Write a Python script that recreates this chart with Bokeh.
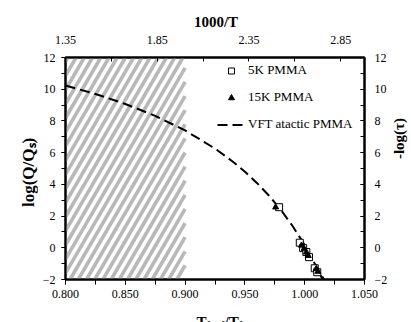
from math import pi, atan, sin
from bokeh.plotting import figure
from bokeh.layouts import column, row
from bokeh.models import (Range1d, LinearAxis, SingleIntervalTicker, FixedTicker,
                          NumeralTickFormatter, Label, Legend, LegendItem)
from bokeh.embed import file_html
from bokeh.resources import INLINE

# ---- data ----
shaded_region = [0.80, 0.90]
vft_x = [0.800, 0.825, 0.850, 0.875, 0.900, 0.925, 0.940, 0.950, 0.960, 0.970,
         0.980, 0.990, 1.000, 1.010, 1.016]
vft_y = [10.23, 9.70, 9.07, 8.32, 7.40, 6.26, 5.43, 4.80, 4.09, 3.30,
         2.40, 1.36, 0.17, -1.22, -2.17]
pmma5k_x = [0.9786, 0.9959, 0.9987, 1.0014, 1.0036, 1.0084, 1.0105]
pmma5k_y = [2.56, 0.32, -0.02, -0.27, -0.59, -1.29, -1.54]
pmma15k_x = [0.9757, 0.9973, 0.9995, 1.0014, 1.0030, 1.0097, 1.0110, 1.0152]
pmma15k_y = [2.56, 0.15, -0.05, -0.28, -0.50, -1.32, -1.50, -2.02]
top_ticks = [1.35, 1.85, 2.35, 2.85]
top_minor = [1.60, 2.10, 2.60]

FONT = "Liberation Serif"
X_RANGE = (0.8, 1.05)
Y_RANGE = (-2, 12)

# page layout (pixels)
TOTAL_W, TOTAL_H = 411, 322
TOP_H = 28          # strip holding "1000/T"
BOT_H = 12          # strip holding the bottom title
LEFT_W = 38         # strip holding the left title
RIGHT_W = 21        # strip holding the right title
MAIN_W = TOTAL_W - LEFT_W - RIGHT_W
MAIN_H = TOTAL_H - TOP_H - BOT_H
FL, FT, FR, FB = 65, 57, 367, 279   # frame edges on the page

p = figure(width=MAIN_W, height=MAIN_H, output_backend="svg", toolbar_location=None,
           x_range=Range1d(*X_RANGE), y_range=Range1d(*Y_RANGE), title=None)
p.min_border_left = FL - LEFT_W
p.min_border_right = LEFT_W + MAIN_W - FR
p.min_border_top = FT - TOP_H
p.min_border_bottom = TOP_H + MAIN_H - FB
p.xgrid.visible = False
p.ygrid.visible = False
p.outline_line_color = "black"
p.outline_line_width = 2
p.background_fill_color = "white"
p.border_fill_color = "white"
p.extra_x_ranges = {"inv": Range1d(1.35, 2.98)}

def style(ax, size="12px"):
    ax.axis_line_color = "black"
    ax.axis_line_width = 2
    ax.major_tick_line_color = "black"
    ax.minor_tick_line_color = "black"
    ax.major_label_text_font = FONT
    ax.major_label_text_font_size = size
    ax.major_label_text_color = "black"

bx = p.xaxis[0]
style(bx)
bx.ticker = SingleIntervalTicker(interval=0.05, num_minor_ticks=2)
bx.formatter = NumeralTickFormatter(format="0.000")
bx.major_tick_out = 5
bx.major_tick_in = 0
bx.minor_tick_out = 5
bx.minor_tick_in = 0
bx.major_label_standoff = 5

ly = p.yaxis[0]
style(ly)
ly.ticker = SingleIntervalTicker(interval=2, num_minor_ticks=2)
ly.major_tick_out = 4
ly.major_tick_in = 0
ly.minor_tick_out = 4
ly.minor_tick_in = 0
ly.major_label_standoff = 6

ry = LinearAxis(ticker=SingleIntervalTicker(interval=2, num_minor_ticks=2))
style(ry)
ry.major_tick_out = 0
ry.major_tick_in = 4
ry.minor_tick_out = 0
ry.minor_tick_in = 4
ry.major_label_standoff = 10
p.add_layout(ry, "right")

tx = LinearAxis(x_range_name="inv", ticker=FixedTicker(ticks=top_ticks, minor_ticks=top_minor),
                formatter=NumeralTickFormatter(format="0.00"))
style(tx)
tx.major_tick_out = 0
tx.major_tick_in = 4
tx.minor_tick_out = 0
tx.minor_tick_in = 4
tx.major_label_standoff = 14
p.add_layout(tx, "above")

# ---- "/" hatching of the shaded region, built as clipped stripes ----
PX_PER_X = (FR - FL) / (X_RANGE[1] - X_RANGE[0])
PX_PER_Y = (FB - FT) / (Y_RANGE[1] - Y_RANGE[0])
SLOPE = 1.7          # screen slope of the stripes
PERIOD = 8.3         # horizontal stripe period, px
band_w = (shaded_region[1] - shaded_region[0]) * PX_PER_X
band_h = (Y_RANGE[1] - Y_RANGE[0]) * PX_PER_Y
sx0, sy0, sx1, sy1 = [], [], [], []
k = -SLOPE * band_w
while k < band_h:
    u0 = max(0.0, -k / SLOPE)
    u1 = min(band_w, (band_h - k) / SLOPE)
    if u1 > u0:
        sx0.append(shaded_region[0] + u0 / PX_PER_X)
        sy0.append(Y_RANGE[0] + (SLOPE * u0 + k) / PX_PER_Y)
        sx1.append(shaded_region[0] + u1 / PX_PER_X)
        sy1.append(Y_RANGE[0] + (SLOPE * u1 + k) / PX_PER_Y)
    k += PERIOD * SLOPE
stripe_w = 0.5 * PERIOD * sin(atan(SLOPE))
p.segment(sx0, sy0, sx1, sy1, line_color="#b8b8b8", line_width=stripe_w, line_cap="butt")

r_vft = p.line(vft_x, vft_y, line_color="black", line_width=2, line_dash="10 5")
r5 = p.scatter(pmma5k_x, pmma5k_y, marker="square", size=7, fill_color="white",
               line_color="black", line_width=1)
r15 = p.scatter(pmma15k_x, pmma15k_y, marker="triangle", size=6, fill_color="black",
                line_color="black")

legend = Legend(items=[LegendItem(label="5K PMMA", renderers=[r5]),
                       LegendItem(label="15K PMMA", renderers=[r15]),
                       LegendItem(label="VFT atactic PMMA", renderers=[r_vft])],
                location=(152, 147), orientation="vertical",
                label_text_font=FONT, label_text_font_size="13px", label_text_color="black",
                glyph_width=28, glyph_height=15, label_height=15, spacing=11,
                label_standoff=3, padding=0, margin=0,
                background_fill_alpha=0, border_line_alpha=0)
p.add_layout(legend)

# ---- title strips (frame = whole strip, pixel data units) ----
def strip(w, h):
    f = figure(width=w, height=h, output_backend="svg", toolbar_location=None,
               x_range=Range1d(0, w), y_range=Range1d(0, h), title=None,
               x_axis_location=None, y_axis_location=None, min_border=0)
    f.xgrid.visible = False
    f.ygrid.visible = False
    f.outline_line_color = None
    f.background_fill_color = "white"
    f.border_fill_color = "white"
    return f

def lab(f, x, y, text, size, angle=0, align="left", baseline="alphabetic"):
    f.add_layout(Label(x=x, y=y, text=text, text_font=FONT, text_font_size=size,
                       text_font_style="bold", text_color="black", angle=angle,
                       text_align=align, text_baseline=baseline))

top = strip(TOTAL_W, TOP_H)
lab(top, 215.5, TOP_H - 21, "1000/T", "15px", align="center")

bot = strip(TOTAL_W, BOT_H)
by = TOTAL_H   # page y of the strip's bottom edge
lab(bot, 196, by - 321, "T", "15px")
lab(bot, 206, by - 324, "f,ref", "10px")
lab(bot, 224, by - 321, "/T", "15px")
lab(bot, 238.2, by - 324, "f", "10px")

left = strip(LEFT_W, MAIN_H)
ly0 = TOP_H + MAIN_H   # page y of strip bottom
lab(left, 28, ly0 - 174, "log(Q/Q\u209b)", "17px", angle=pi / 2,
    align="center", baseline="alphabetic")

right = strip(RIGHT_W, MAIN_H)
lab(right, 398 - (LEFT_W + MAIN_W), ly0 - 131, "-log(\u03c4)", "15px", angle=pi / 2,
    align="center", baseline="middle")

layout = column(top, row(left, p, right), bot)
open("out.html", "w").write(file_html(layout, INLINE))
